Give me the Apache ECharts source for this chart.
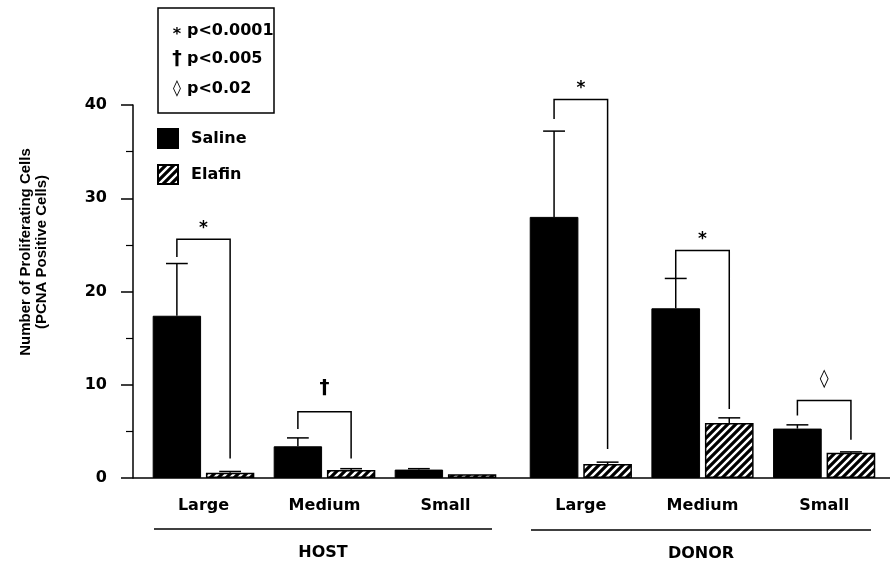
<!DOCTYPE html>
<html><head><meta charset="utf-8">
<script src="https://cdn.jsdelivr.net/npm/echarts@6/dist/echarts.min.js"></script>
<style>html,body{margin:0;padding:0;background:#fff}#c{width:890px;height:566px}</style>
</head><body><div id="c"></div>
<script>
// ---- data ----
const categories = ['Large', 'Medium', 'Small'];
const groupNames = ['HOST', 'DONOR'];
const seriesNames = ['Saline', 'Elafin'];
const hostSaline = [17.4, 3.4, 0.9];
const hostSalineSem = [5.6, 0.9, 0.1];
const hostElafin = [0.55, 0.86, 0.4];
const hostElafinSem = [0.15, 0.14, 0.0];
const donorSaline = [28.0, 18.2, 5.3];
const donorSalineSem = [9.2, 3.2, 0.4];
const donorElafin = [1.5, 5.9, 2.7];
const donorElafinSem = [0.2, 0.55, 0.1];
// [category index, bracket top, left leg bottom, right leg bottom]
const hostBrackets = [[0, 25.6, 23.7, 2.1], [1, 7.1, 5.25, 2.1]];
const hostBracketSymbols = ['*', '†'];
const donorBrackets = [[0, 40.6, 38.5, 3.1], [1, 24.4, 21.4, 7.4], [2, 8.3, 6.7, 4.1]];
const donorBracketSymbols = ['*', '*', '◊'];
const yMin = 0, yMax = 40, yStep = 10;
const pSymbols = ['*', '†', '◊'];
const pLabels = ['p<0.0001', 'p<0.005', 'p<0.02'];

// ---- styles ----
const FONT = 'DejaVu Sans';
function makeHatch() {
  const s = 8, c = document.createElement('canvas');
  c.width = s; c.height = s;
  const g = c.getContext('2d');
  g.fillStyle = '#fff'; g.fillRect(0, 0, s, s);
  g.strokeStyle = '#000'; g.lineWidth = 3.2;
  g.beginPath();
  for (const k of [0, s, 2 * s]) { g.moveTo(-2, k + 2); g.lineTo(k + 2, -2); }
  g.stroke();
  return { image: c, repeat: 'repeat' };
}
const hatch = makeHatch();
const OFF = 0.22; // bar centre offset as a fraction of the category band

function errRender(sign) {
  return function (params, api) {
    const i = api.value(0), v = api.value(1), sem = api.value(2);
    if (!(sem > 0)) return;
    const base = api.coord([i, v]), top = api.coord([i, v + sem]);
    const band = api.size([1, 0])[0];
    const x = base[0] + sign * band * OFF;
    const cw = band * 0.09;
    return { type: 'group', children: [
      { type: 'line', shape: { x1: x, y1: base[1], x2: x, y2: top[1] }, style: { stroke: '#000', lineWidth: 1.5 } },
      { type: 'line', shape: { x1: x - cw, y1: top[1], x2: x + cw, y2: top[1] }, style: { stroke: '#000', lineWidth: 1.5 } }
    ] };
  };
}
const symStyle = { '*': { size: 17, dy: -11 }, '†': { size: 20, dy: -24 }, '◊': { size: 18, dy: -21 } };
function bracketRender(symbols) {
  return function (params, api) {
    const i = api.value(0);
    const band = api.size([1, 0])[0], off = band * OFF;
    const c = api.coord([i, api.value(1)]);
    const xl = c[0] - off, xr = c[0] + off, yt = c[1];
    const yl = api.coord([i, api.value(2)])[1], yr = api.coord([i, api.value(3)])[1];
    const sym = symbols[params.dataIndex], ss = symStyle[sym];
    return { type: 'group', children: [
      { type: 'polyline', shape: { points: [[xl, yl], [xl, yt], [xr, yt], [xr, yr]] }, style: { stroke: '#000', lineWidth: 1.5, fill: null } },
      { type: 'text', x: (xl + xr) / 2, y: yt + ss.dy, style: { text: sym, fill: '#000', font: 'bold ' + ss.size + 'px "' + FONT + '"', textAlign: 'center', textVerticalAlign: 'middle' } }
    ] };
  };
}

const chart = echarts.init(document.getElementById('c'));
const grids = [
  { left: 143, right: 384, top: 105, bottom: 88 },
  { left: 520, right: 5, top: 105, bottom: 88 }
];
const xAxisBase = {
  type: 'category', data: categories,
  axisLine: { show: false }, axisTick: { show: false },
  axisLabel: { margin: 20, color: '#000', fontFamily: FONT, fontWeight: 'bold', fontSize: 16 }
};
const groupsData = [
  { s: hostSaline, ss: hostSalineSem, e: hostElafin, es: hostElafinSem, br: hostBrackets, sym: hostBracketSymbols },
  { s: donorSaline, ss: donorSalineSem, e: donorElafin, es: donorElafinSem, br: donorBrackets, sym: donorBracketSymbols }
];
const series = [];
groupsData.forEach((g, gi) => {
  series.push({ name: seriesNames[0], type: 'bar', xAxisIndex: gi, yAxisIndex: gi, data: g.s,
    barWidth: '40%', barGap: '10%', itemStyle: { color: '#000', borderColor: '#000', borderWidth: 1 } });
  series.push({ name: seriesNames[1], type: 'bar', xAxisIndex: gi, yAxisIndex: gi, data: g.e,
    barWidth: '40%', barGap: '10%', itemStyle: { color: hatch, borderColor: '#000', borderWidth: 1.5 } });
  series.push({ type: 'custom', xAxisIndex: gi, yAxisIndex: gi, z: 5, silent: true,
    data: g.s.map((v, i) => [i, v, g.ss[i]]), renderItem: errRender(-1) });
  series.push({ type: 'custom', xAxisIndex: gi, yAxisIndex: gi, z: 5, silent: true,
    data: g.e.map((v, i) => [i, v, g.es[i]]), renderItem: errRender(1) });
  series.push({ type: 'custom', xAxisIndex: gi, yAxisIndex: gi, z: 6, silent: true, clip: false,
    data: g.br, renderItem: bracketRender(g.sym) });
});

chart.setOption({
  animation: false,
  backgroundColor: '#fff',
  textStyle: { fontFamily: FONT },
  grid: grids,
  legend: {
    data: seriesNames, orient: 'vertical', left: 152, top: 123, icon: 'rect',
    itemWidth: 20, itemHeight: 19, itemGap: 15, selectedMode: false,
    textStyle: { color: '#000', fontFamily: FONT, fontWeight: 'bold', fontSize: 16, padding: [0, 0, 0, 8] }
  },
  xAxis: [Object.assign({ gridIndex: 0 }, xAxisBase), Object.assign({ gridIndex: 1 }, xAxisBase)],
  yAxis: [
    { type: 'value', gridIndex: 0, min: yMin, max: yMax, interval: yStep, offset: 10,
      axisLine: { show: true, lineStyle: { color: '#000', width: 1.5 } },
      axisTick: { show: true, length: 12, lineStyle: { color: '#000', width: 1.5 } },
      minorTick: { show: true, splitNumber: 2, length: 7, lineStyle: { color: '#000', width: 1.2 } },
      splitLine: { show: false },
      axisLabel: { margin: 26, color: '#000', fontFamily: FONT, fontWeight: 'bold', fontSize: 16 } },
    { type: 'value', gridIndex: 1, min: yMin, max: yMax, interval: yStep, show: false, splitLine: { show: false } }
  ],
  series: series
});

// decorations (baseline, group rules, labels, significance key, y title)
const p0 = chart.convertToPixel({ gridIndex: 0 }, [0, 0]);
const yBase = p0[1];
const key = [];
pSymbols.forEach((s, i) => {
  const y = [31, 59, 89][i];
  key.push({ type: 'text', x: 177, y: y + (s === '*' ? 4 : 0), style: { text: s, fill: '#000', font: 'bold ' + (s === '†' ? 19 : 16) + 'px "' + FONT + '"', textAlign: 'center', textVerticalAlign: 'middle' } });
  key.push({ type: 'text', x: 187, y: y, style: { text: pLabels[i], fill: '#000', font: 'bold 16px "' + FONT + '"', textAlign: 'left', textVerticalAlign: 'middle' } });
});
chart.setOption({
  graphic: [
    { type: 'line', shape: { x1: 133, y1: yBase, x2: 890, y2: yBase }, style: { stroke: '#000', lineWidth: 1.5 } },
    { type: 'line', shape: { x1: 154, y1: 529, x2: 492, y2: 529 }, style: { stroke: '#000', lineWidth: 1.5 } },
    { type: 'line', shape: { x1: 531, y1: 530, x2: 871, y2: 530 }, style: { stroke: '#000', lineWidth: 1.5 } },
    { type: 'text', x: 323, y: 553, style: { text: groupNames[0], fill: '#000', font: 'bold 16px "' + FONT + '"', textAlign: 'center', textVerticalAlign: 'middle' } },
    { type: 'text', x: 701, y: 554, style: { text: groupNames[1], fill: '#000', font: 'bold 16px "' + FONT + '"', textAlign: 'center', textVerticalAlign: 'middle' } },
    { type: 'rect', shape: { x: 158, y: 8, width: 116, height: 105 }, style: { stroke: '#000', lineWidth: 1.5, fill: null } },
    ...key,
    { type: 'text', x: 34, y: 252, rotation: Math.PI / 2,
      style: { text: 'Number of Proliferating Cells\n(PCNA Positive Cells)', fill: '#000', font: 'bold 15px "Liberation Sans"', lineHeight: 16, textAlign: 'center', textVerticalAlign: 'middle' } }
  ]
});
</script>
</body></html>
